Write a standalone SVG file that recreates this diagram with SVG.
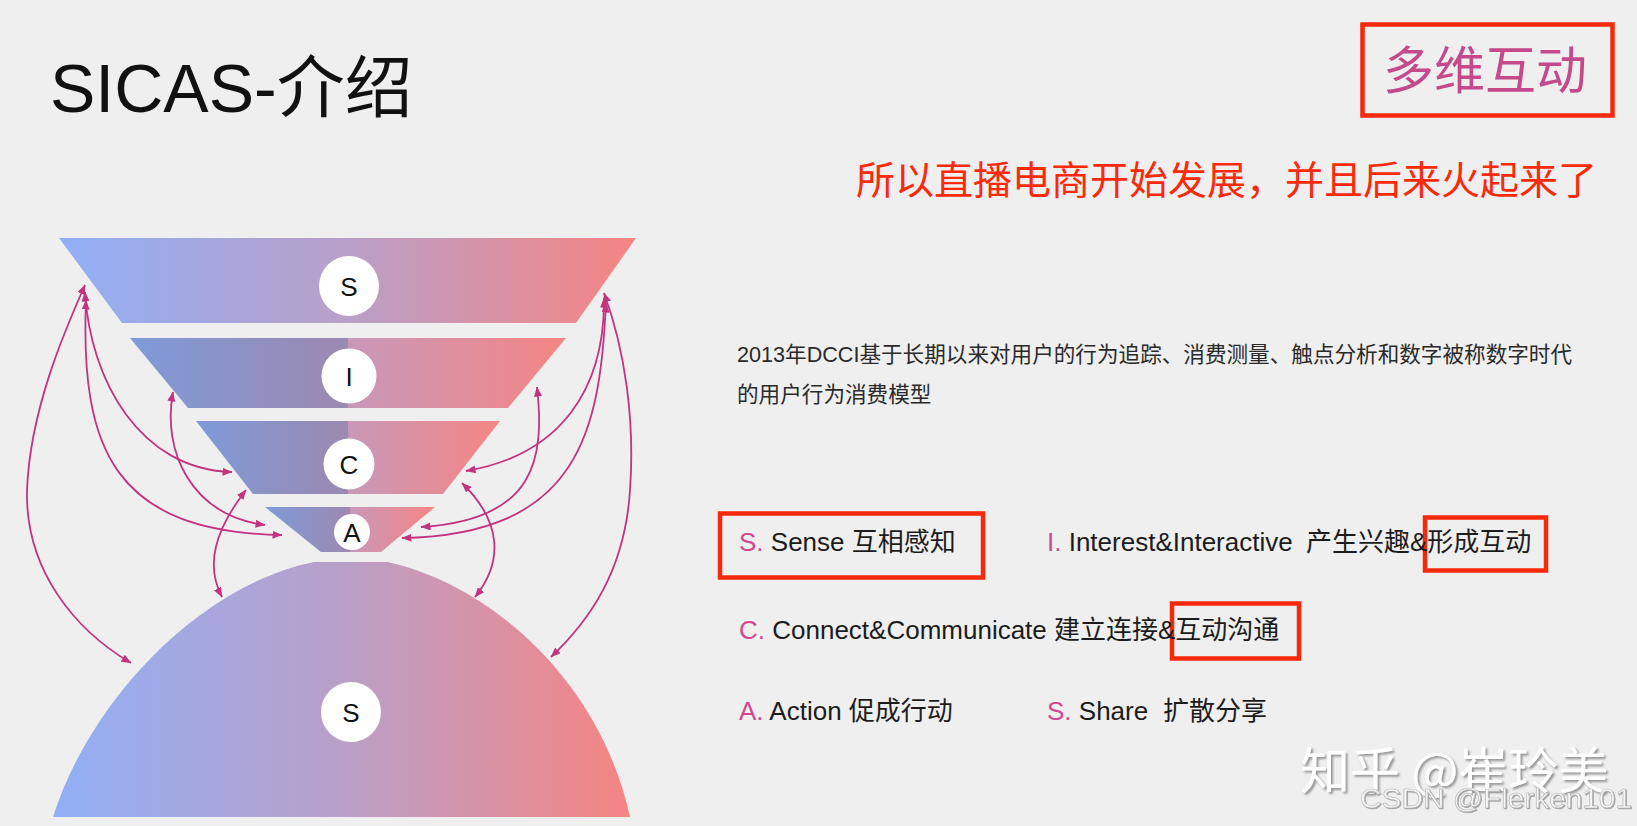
<svg xmlns="http://www.w3.org/2000/svg" width="1637" height="826" viewBox="0 0 1637 826">
<defs>
<linearGradient id="gSmooth" x1="0" y1="0" x2="1" y2="0">
<stop offset="0" stop-color="#91aff6"/>
<stop offset="0.5" stop-color="#b9a0c8"/>
<stop offset="1" stop-color="#f68482"/>
</linearGradient>
<linearGradient id="gSplit" x1="0" y1="0" x2="1" y2="0">
<stop offset="0" stop-color="#7f9ad9"/>
<stop offset="0.5" stop-color="#9c89b0"/>
<stop offset="0.5" stop-color="#c898b9"/>
<stop offset="1" stop-color="#f58584"/>
</linearGradient>
<marker id="ah" viewBox="0 0 10 8" refX="9.5" refY="4" markerWidth="10" markerHeight="8" markerUnits="userSpaceOnUse" orient="auto-start-reverse">
<path d="M0,0 L10,4 L0,8 z" fill="#c2347e"/>
</marker>
<filter id="sh" x="-10%" y="-30%" width="120%" height="160%">
<feDropShadow dx="2" dy="2" stdDeviation="0.8" flood-color="#8c8c8c" flood-opacity="0.9"/>
</filter>
<filter id="sh2" x="-10%" y="-30%" width="120%" height="160%">
<feDropShadow dx="1" dy="1" stdDeviation="0.5" flood-color="#9a9a9a" flood-opacity="0.9"/>
</filter>
</defs>
<style>
.bg{fill:#efefef}
.f{font-family:"Liberation Sans","Noto Sans CJK SC",sans-serif}
.cj{font-family:"Noto Sans CJK SC","Liberation Sans",sans-serif}
.circ{fill:#ffffff}
.lt{font-family:"Liberation Sans",sans-serif;font-size:26px;fill:#111;text-anchor:middle}
.con path{fill:none;stroke:#c2347e;stroke-width:1.8;marker-start:url(#ah);marker-end:url(#ah)}
.red{fill:none;stroke:#f7290c;stroke-width:4.5}
.item{font-size:26px;fill:#1c1c1c}
.pk{fill:#cf4a8c}
</style>
<rect class="bg" x="0" y="0" width="1637" height="826"/>

<g id="title">
<text class="f" x="50" y="112" font-size="68" fill="#111">SICAS-介绍</text>
</g>

<g id="tag-box">
<rect class="red" x="1362.5" y="24.5" width="250" height="91"/>
<text class="cj" x="1383" y="89" font-size="51" fill="#c44a8c">多维互动</text>
</g>

<g id="note">
<text class="cj" x="856" y="194" font-size="39" fill="#fa2a0a">所以直播电商开始发展，并且后来火起来了</text>
</g>

<g id="funnel-S1">
<polygon points="59,238 636,238 576,323 122,323" fill="url(#gSmooth)"/>
<circle class="circ" cx="349" cy="286" r="30"/>
<text class="lt" x="349" y="295.5">S</text>
</g>
<g id="funnel-I">
<polygon points="130,338 566,338 508,408 188,408" fill="url(#gSplit)"/>
<circle class="circ" cx="349" cy="376" r="27.5"/>
<text class="lt" x="349" y="385.5">I</text>
</g>
<g id="funnel-C">
<polygon points="196,421 500,421 443,494 253,494" fill="url(#gSplit)"/>
<circle class="circ" cx="349" cy="464" r="25.5"/>
<text class="lt" x="349" y="473.5">C</text>
</g>
<g id="funnel-A">
<polygon points="265,507 435,507 381,552 321,552" fill="url(#gSplit)"/>
<circle class="circ" cx="352" cy="532" r="18"/>
<text class="lt" x="352" y="541.5">A</text>
</g>
<g id="dome-S2">
<path d="M314,562 L388,562 C490,585 600,680 630,817 L53,817 C90,700 200,585 314,562 Z" fill="url(#gSmooth)"/>
<circle class="circ" cx="351" cy="712" r="30"/>
<text class="lt" x="351" y="721.5">S</text>
</g>

<g id="connectors" class="con">
<path d="M85,285 C65,330 30,410 27,490 C25,570 75,630 131,663"/>
<path d="M85,292 C90,380 140,470 232,472"/>
<path d="M86,300 C80,450 115,532 282,535"/>
<path d="M173,392 C162,450 190,515 265,525"/>
<path d="M246,490 C215,530 205,565 222,597"/>
<path d="M604,293 C625,350 635,420 630,490 C625,570 590,620 551,657"/>
<path d="M604,298 C605,390 560,455 466,471"/>
<path d="M606,303 C600,430 580,535 402,538"/>
<path d="M537,387 C545,460 535,520 421,527"/>
<path d="M462,483 C500,520 505,560 475,597"/>
</g>

<g id="description" class="f" font-size="21.6" fill="#2a2a2a">
<text x="737" y="362">2013年DCCI基于长期以来对用户的行为追踪、消费测量、触点分析和数字被称数字时代</text>
<text x="737" y="402">的用户行为消费模型</text>
</g>

<g id="item-S1" class="f item">
<rect class="red" x="720" y="513.5" width="263" height="64"/>
<text x="739" y="551"><tspan class="pk">S.</tspan> Sense 互相感知</text>
</g>
<g id="item-I" class="f item">
<rect class="red" x="1425" y="517.5" width="121" height="53"/>
<text x="1047" y="551"><tspan class="pk">I.</tspan> Interest&amp;Interactive<tspan x="1306">产生兴趣&amp;形成互动</tspan></text>
</g>
<g id="item-C" class="f item">
<rect class="red" x="1172" y="603.5" width="127" height="55"/>
<text x="739" y="639"><tspan class="pk">C.</tspan> Connect&amp;Communicate 建立连接&amp;互动沟通</text>
</g>
<g id="item-A" class="f item">
<text x="739" y="720"><tspan class="pk">A.</tspan> Action 促成行动</text>
</g>
<g id="item-S2" class="f item">
<text x="1047" y="720"><tspan class="pk">S.</tspan> Share<tspan x="1163">扩散分享</tspan></text>
</g>

<g id="watermark">
<text class="cj" x="1300" y="789" font-size="50" fill="#ffffff" filter="url(#sh)">知乎 @崔玲美</text>
<text class="f" x="1360" y="808" font-size="28" textLength="272" lengthAdjust="spacingAndGlyphs" fill="#f6f6f6" stroke="#b4b4b4" stroke-width="0.6" filter="url(#sh2)">CSDN @Flerken101</text>
</g>
</svg>
